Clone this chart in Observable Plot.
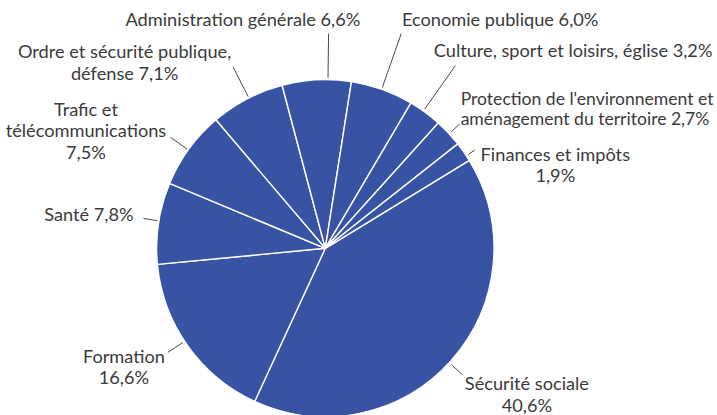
<!DOCTYPE html>
<html>
<head>
<meta charset="utf-8">
<script src="https://cdn.jsdelivr.net/npm/d3@7"></script>
<script src="https://cdn.jsdelivr.net/npm/@observablehq/plot@0.6"></script>
<style>
  html, body { margin: 0; padding: 0; background: #fff; }
  #chart svg { display: block; }
</style>
</head>
<body>
<div id="chart"></div>
<script>
// ---------- data ----------
const categories = [
  "Sécurité sociale",
  "Formation",
  "Santé",
  "Trafic et télécommunications",
  "Ordre et sécurité publique, défense",
  "Administration générale",
  "Economie publique",
  "Culture, sport et loisirs, église",
  "Protection de l'environnement et aménagement du territoire",
  "Finances et impôts"
];
const values = [40.6, 16.6, 7.8, 7.5, 7.1, 6.6, 6.0, 3.2, 2.7, 1.9];
const labelLines = [
  ["Sécurité sociale", "40,6%"],
  ["Formation", "16,6%"],
  ["Santé 7,8%"],
  ["Trafic et", "télécommunications", "7,5%"],
  ["Ordre et sécurité publique,", "défense 7,1%"],
  ["Administration générale 6,6%"],
  ["Economie publique 6,0%"],
  ["Culture, sport et loisirs, église 3,2%"],
  ["Protection de l'environnement et", "aménagement du territoire 2,7%"],
  ["Finances et impôts", "1,9%"]
];

// ---------- layout ----------
const W = 717, H = 415;
const CX = 325.3, CY = 248.3, R = 168.7, R0 = 171;
const START_DEG = 58.6;
const FONT_FAMILY = 'Lato';
const COLOR = "#3853a4";
const RIGHT_LIMIT = W - 4;
// widths (px) of a few label lines in the reference, used to fit the font size
const fitLines = [
  ["Administration générale 6,6%", 238.3],
  ["Culture, sport et loisirs, église 3,2%", 280],
  ["télécommunications", 158.7],
  ["Sécurité sociale", 131],
  ["Protection de l'environnement et", 249]
];
// leader angle tweak (deg), leader outer radius, block alignment at leader end, offsets (px), line height
const labelLayout = [
  {da: 1.0,  r1: 185.7, align: "left",  justify: "center", dx: 2.5,  dy: 15.5, lh: 21.7},
  {da: 2.1,  r1: 188.5, align: "right", justify: "center", dx: -3.3, dy: 10.6, lh: 21.7},
  {da: 0.9,  r1: 184.8, align: "right", justify: "edge",   dx: -10,  dy: 2.3,  lh: 21.7},
  {da: -0.4, r1: 191.2, align: "right", justify: "center", dx: -4.3, dy: -21.7, lh: 21.6},
  {da: 0.6,  r1: 204.3, align: "right", justify: "center", dx: -1.7, dy: -8.4, lh: 21.7},
  {da: 3.7,  r1: 215.3, align: "right", justify: "edge",   dx: 31.7, dy: -8,   lh: 21.7},
  {da: -0.4, r1: 227.9, align: "left",  justify: "edge",   dx: 0.7,  dy: -8,   lh: 21.7},
  {da: -1.0, r1: 224.5, align: "left",  justify: "edge",   dx: -21.7, dy: -8.3, lh: 21.7},
  {da: 0.1,  r1: 183.0, align: "left",  justify: "edge",   dx: 1,    dy: -18.7, lh: 19.6},
  {da: 1.3,  r1: 178.5, align: "left",  justify: "center", dx: 6,    dy: 10.7, lh: 21}
];

// ---------- font fitting ----------
const ctx = document.createElement("canvas").getContext("2d");
ctx.font = `20px ${FONT_FAMILY}`;
const ratios = fitLines.map(([s, w]) => w / ctx.measureText(s).width);
const FONT_SIZE = Math.round(20 * d3.mean(ratios) * 10) / 10;
const measureAt = (s, fs) => { ctx.font = `${fs}px ${FONT_FAMILY}`; return ctx.measureText(s).width; };

// ---------- computation ----------
const a0 = START_DEG * Math.PI / 180;
const pie = d3.pie().sort(null).value(d => d).startAngle(a0).endAngle(a0 + 2 * Math.PI);
const arcs = pie(values).map((a, i) => ({...a, category: categories[i]}));

const leaders = arcs.map((a, i) => {
  const L = labelLayout[i];
  const ang = (a.startAngle + a.endAngle) / 2 + L.da * Math.PI / 180;
  return {
    x1: Math.sin(ang) * R0, y1: -Math.cos(ang) * R0,
    x2: Math.sin(ang) * L.r1, y2: -Math.cos(ang) * L.r1
  };
});

const textRows = [];
labelLines.forEach((lines, i) => {
  const L = labelLayout[i], e = leaders[i];
  const edge = e.x2 + L.dx;
  let fs = FONT_SIZE;
  let widths = lines.map(s => measureAt(s, fs));
  let bw = d3.max(widths);
  // shrink a label that would run past the right edge of the picture
  if (L.align === "left") {
    const avail = (RIGHT_LIMIT - CX) - edge;
    if (bw > avail) {
      fs = fs * avail / bw;
      widths = lines.map(s => measureAt(s, fs));
      bw = d3.max(widths);
    }
  }
  lines.forEach((t, j) => {
    const w = widths[j];
    let xc;
    if (L.justify === "center") {
      xc = L.align === "left" ? edge + bw / 2 : edge - bw / 2;
    } else {
      xc = L.align === "left" ? edge + w / 2 : edge - w / 2;
    }
    const baseline = e.y2 + L.dy + j * L.lh;
    textRows.push({text: t, x: xc, y: baseline - 0.32 * fs, fs});
  });
});

// ---------- chart ----------
const chart = Plot.plot({
  width: W,
  height: H,
  margin: 0,
  x: {domain: [-CX, W - CX], range: [0, W], axis: null},
  y: {domain: [-CY, H - CY], range: [0, H], axis: null},
  style: {fontFamily: `${FONT_FAMILY}, sans-serif`, fontSize: FONT_SIZE + "px", background: "#fff"},
  marks: [
    (index, scales) => {
      const {x, y} = scales;
      const g = d3.create("svg:g")
        .attr("transform", `translate(${x(0)},${y(0)})`);
      const arcGen = d3.arc().innerRadius(0).outerRadius(x(R) - x(0));
      g.selectAll("path")
        .data(arcs)
        .join("path")
        .attr("d", arcGen)
        .attr("fill", COLOR)
        .attr("stroke", "#fff")
        .attr("stroke-width", 1.4)
        .attr("stroke-linejoin", "round")
        .append("title").text(d => d.category);
      return g.node();
    },
    Plot.link(leaders, {x1: "x1", y1: "y1", x2: "x2", y2: "y2", stroke: "#333", strokeWidth: 0.9}),
    Plot.text(textRows, {
      x: "x", y: "y", text: "text", fontSize: "fs",
      textAnchor: "middle", lineAnchor: "middle",
      fill: "#3a3a3a"
    })
  ]
});
document.getElementById("chart").appendChild(chart);
</script>
</body>
</html>
